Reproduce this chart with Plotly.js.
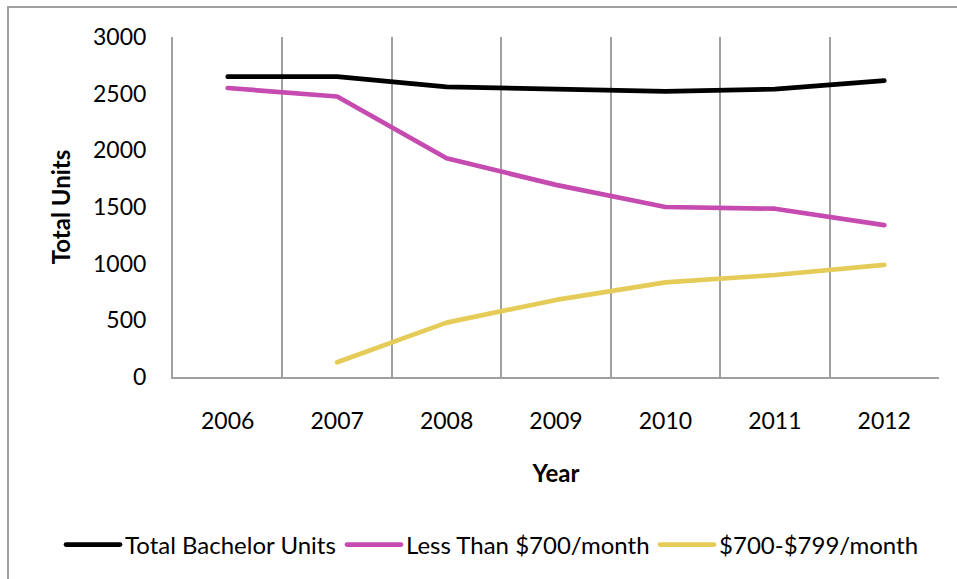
<!DOCTYPE html>
<html>
<head>
<meta charset="utf-8">
<script src="https://cdn.plot.ly/plotly-3.0.1.min.js"></script>
<style>
  html, body { margin: 0; padding: 0; background: #fff; }
  #wrap { position: relative; width: 957px; height: 579px; overflow: hidden; }
  #frame { position: absolute; left: 7px; top: 6px; width: 1000px; height: 1000px;
           border-top: 2px solid #a0a0a0; border-left: 2px solid #a0a0a0; pointer-events: none; }
  #chart { position: absolute; left: 0; top: 0; width: 957px; height: 579px; }
  #chart path.js-line { stroke-linecap: round; stroke-linejoin: round; }
</style>
</head>
<body>
<div id="wrap">
  <div id="chart"></div>
  <div id="frame"></div>
</div>
<script>
const years = [2006, 2007, 2008, 2009, 2010, 2011, 2012];
const totalBachelor = [2650, 2650, 2560, 2535, 2520, 2540, 2615];
const lessThan700 = [2550, 2475, 1930, 1695, 1500, 1485, 1340];
const range700to799 = [null, 130, 480, 680, 835, 900, 990];
const seriesNames = ["Total Bachelor Units", "Less Than $700/month", "$700-$799/month"];
const yTicks = [0, 500, 1000, 1500, 2000, 2500, 3000];

const FONT = "Lato, 'Open Sans', sans-serif";
const colors = ["#000000", "#c64bb0", "#e5cc58"];
const seriesData = [totalBachelor, lessThan700, range700to799];
const legendIds = ["legend", "legend2", "legend3"];
const legendX = [-0.1462, 0.2206, 0.6293];

const traces = seriesData.map((vals, i) => ({
  x: years,
  y: vals,
  type: "scatter",
  mode: "lines",
  name: seriesNames[i],
  legend: legendIds[i],
  line: { color: colors[i], width: 4.7 },
  connectgaps: false
}));

const layout = {
  width: 957,
  height: 579,
  margin: { l: 173, r: 18, t: 37, b: 202, autoexpand: false },
  paper_bgcolor: "#ffffff",
  plot_bgcolor: "#ffffff",
  font: { family: FONT, size: 23, color: "#000000" },
  showlegend: true,
  xaxis: {
    range: [2005.5, 2012.5],
    tickmode: "array",
    tickvals: years,
    ticktext: years.map(String),
    showgrid: false,
    zeroline: false,
    showline: true,
    linecolor: "#a0a0a0",
    linewidth: 2,
    ticks: "",
    ticklabelstandoff: 22,
    tickfont: { family: FONT, size: 23, color: "#000000" },
    minor: { tick0: 2005.5, dtick: 1, showgrid: true, gridcolor: "#a0a0a0", gridwidth: 2, ticks: "" },
    title: { text: "Year", font: { family: FONT, size: 24, color: "#000000", weight: "bold" }, standoff: 33 },
    fixedrange: true
  },
  yaxis: {
    range: [0, 3000],
    tickmode: "array",
    tickvals: yTicks,
    ticktext: yTicks.map(String),
    showgrid: false,
    zeroline: false,
    showline: true,
    linecolor: "#a0a0a0",
    linewidth: 2,
    ticks: "",
    ticklabelstandoff: 20,
    tickfont: { family: FONT, size: 23, color: "#000000" },
    title: { text: "Total Units", font: { family: FONT, size: 24, color: "#000000", weight: "bold" }, standoff: 16 },
    fixedrange: true
  }
};

legendIds.forEach((id, i) => {
  layout[id] = {
    orientation: "h",
    x: legendX[i], xanchor: "left",
    y: -0.494, yanchor: "middle",
    font: { family: FONT, size: 24, color: "#000000" },
    itemwidth: 54,
    bgcolor: "rgba(0,0,0,0)",
    borderwidth: 0
  };
});

Plotly.newPlot("chart", traces, layout, { displayModeBar: false, staticPlot: true });
</script>
</body>
</html>
